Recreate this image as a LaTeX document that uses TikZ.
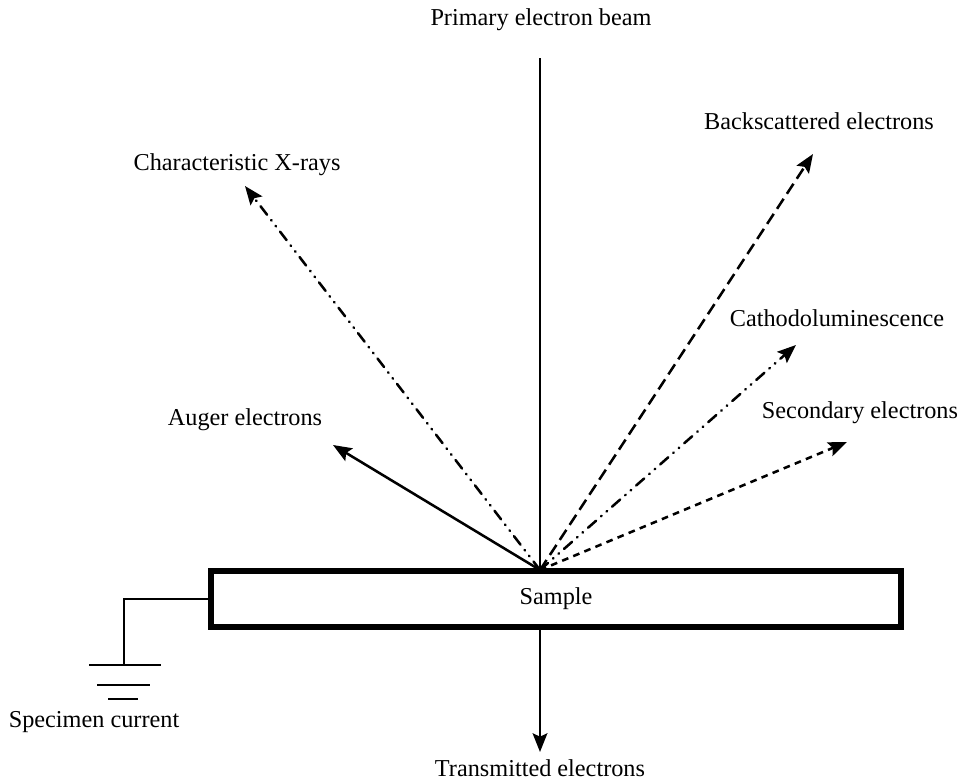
\documentclass[tikz,border=0pt]{standalone}
\usepackage{fontspec}
\setmainfont{Liberation Serif}
\usetikzlibrary{arrows.meta}
\begin{document}
\begin{tikzpicture}[x=0.75pt,y=-0.75pt,
  lbl/.style={font=\fontsize{18.2}{21}\selectfont, inner sep=0pt, anchor=center},
  ray/.style={line width=1.9pt, -{Stealth[length=14pt,width=11pt,inset=2.5pt]}},
  bsdash/.style={dash pattern=on 9pt off 4.5pt},
  sedash/.style={dash pattern=on 5pt off 4pt},
  xdash/.style={line cap=round, dash pattern=on 8pt off 5pt on 0.5pt off 5pt on 0.5pt off 5pt},
  cldash/.style={line cap=round, dash pattern=on 8pt off 5pt on 0.5pt off 5pt on 0.5pt off 5pt},
  wire/.style={line width=1pt},
]
\useasboundingbox (0,0) rectangle (960,783);
% sample
\node[draw, line width=4pt, minimum width=517.5pt, minimum height=42pt, inner sep=0pt,
      font=\fontsize{18.2}{21}\selectfont] (sample) at (556,599) {Sample};
\coordinate (o) at (540,570);
\coordinate (top) at (540,58);
\coordinate (tx) at (245,186);
\coordinate (tbs) at (813,154);
\coordinate (tcl) at (796,345);
\coordinate (tse) at (847,442);
\coordinate (tau) at (333,445);
\coordinate (tbot) at (540,628);
\coordinate (ttr) at (540,752);
% labels
\node[lbl] (lpb) at (541,20) {Primary electron beam};
\node[lbl] (lbs) at (819,121) {Backscattered electrons};
\node[lbl] (lx) at (237,165) {Characteristic X-rays};
\node[lbl] (lcl) at (837,318) {Cathodoluminescence};
\node[lbl] (lse) at (860,413) {Secondary electrons};
\node[lbl] (lau) at (245,420) {Auger electrons};
\node[lbl] (lsc) at (94,722) {Specimen current};
\node[lbl] (ltr) at (540,768) {Transmitted electrons};
% beam
\draw[line width=1.1pt] (top) -- (o);
% rays
\draw[ray, xdash] (o) -- (tx);
\draw[ray, bsdash] (o) -- (tbs);
\draw[ray, cldash] (o) -- (tcl);
\draw[ray, sedash] (o) -- (tse);
\draw[ray] (o) -- (tau);
\draw[ray] (tbot) -- (ttr);
% ground
\coordinate (g0) at (124,599);
\coordinate (g1) at (124,665);
\draw[wire] (sample.west |- g0) -- (g0) -- (g1);
\draw[wire] (89,665) -- (161,665);
\draw[wire] (97,685) -- (150,685);
\draw[line width=2pt] (108,699) -- (138,699);
\end{tikzpicture}
\end{document}
